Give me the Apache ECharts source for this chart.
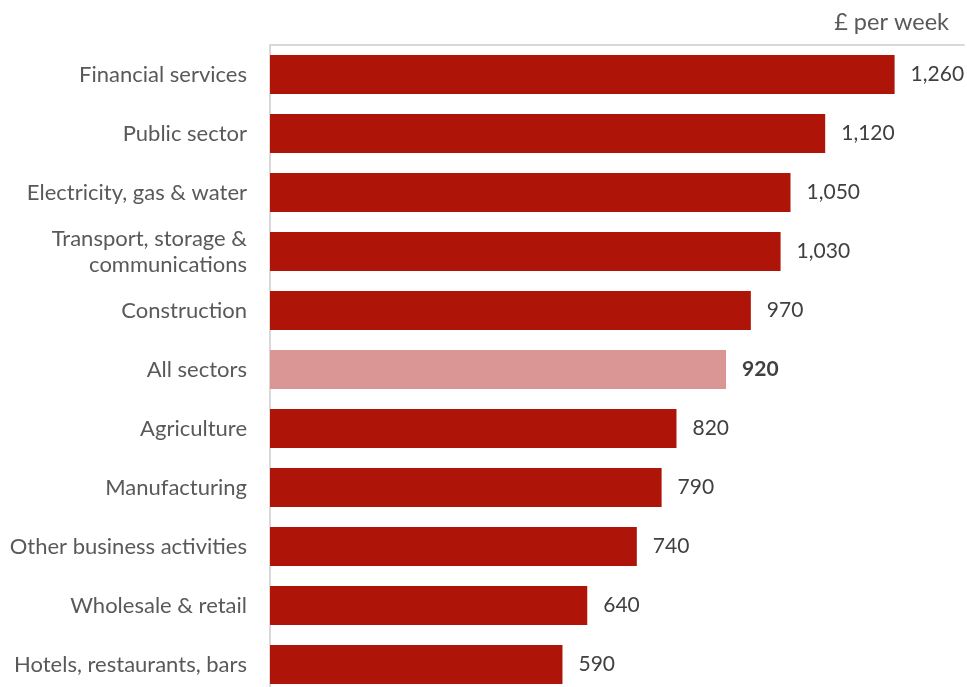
<!DOCTYPE html>
<html>
<head>
<meta charset="utf-8">
<script src="https://cdn.jsdelivr.net/npm/echarts@6/dist/echarts.min.js"></script>
<style>
  html, body { margin: 0; padding: 0; background: #fff; overflow: hidden; }
  #chart { width: 967px; height: 700px; }
</style>
</head>
<body>
<div id="chart"></div>
<script>
// Salaires hebdomadaires par secteur
const categories = [
  "Financial services",
  "Public sector",
  "Electricity, gas & water",
  "Transport, storage &\ncommunications",
  "Construction",
  "All sectors",
  "Agriculture",
  "Manufacturing",
  "Other business activities",
  "Wholesale & retail",
  "Hotels, restaurants, bars",
];
const values = [1260, 1120, 1050, 1030, 970, 920, 820, 790, 740, 640, 590];
const highlight = "All sectors";

const fontFamily = "Lato, 'Open Sans', sans-serif";
const chart = echarts.init(document.getElementById("chart"));

const option = {
  animation: false,
  textStyle: { fontFamily },
  title: {
    text: "£ per week",
    right: 13,
    top: 5,
    textStyle: { fontSize: 23.5, fontWeight: "normal", color: "#595959", fontFamily },
  },
  // la dernière barre est coupée par le bas de la fenêtre
  grid: { left: 270, right: 3, top: 45, bottom: 6, containLabel: false },
  xAxis: {
    type: "value",
    position: "top",
    min: 0,
    max: 1400,
    axisLine: { show: true, lineStyle: { color: "#d9d9d9", width: 2 } },
    axisTick: { show: false },
    axisLabel: { show: false },
    splitLine: { show: false },
  },
  yAxis: {
    type: "category",
    data: categories,
    inverse: true,
    axisLine: { show: true, lineStyle: { color: "#d9d9d9", width: 2 } },
    axisTick: { show: false },
    axisLabel: {
      margin: 23,
      fontSize: 22,
      color: "#595959",
      lineHeight: 26,
      fontFamily,
    },
  },
  series: [
    {
      type: "bar",
      barCategoryGap: "34%",
      data: values.map((v, i) => {
        const isAll = categories[i] === highlight;
        return {
          value: v,
          itemStyle: { color: isAll ? "#d99694" : "#ae1508" },
          label: isAll ? { fontWeight: "bold" } : undefined,
        };
      }),
      label: {
        show: true,
        position: "right",
        distance: 16,
        fontSize: 21,
        color: "#404040",
        fontFamily,
        formatter: (p) => p.value.toLocaleString("en-GB"),
      },
    },
  ],
};

chart.setOption(option);
</script>
</body>
</html>
